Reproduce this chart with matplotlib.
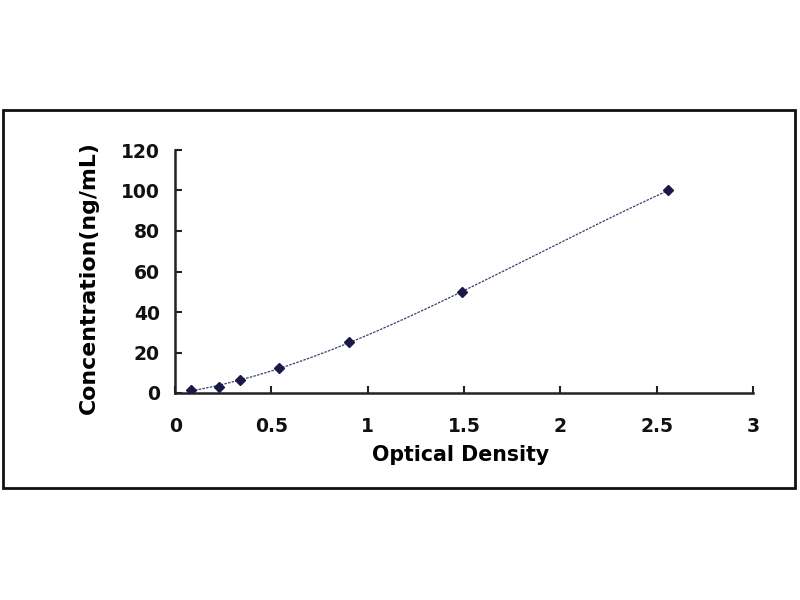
import numpy as np
import matplotlib
matplotlib.use("Agg")
import matplotlib.pyplot as plt
from matplotlib.patches import Rectangle

# standard curve points
od = [0.084, 0.228, 0.337, 0.54, 0.905, 1.49, 2.56]
conc = [1.56, 3.12, 6.25, 12.5, 25, 50, 100]

x_ticks = [0, 0.5, 1, 1.5, 2, 2.5, 3]
x_tick_labels = ["0", "0.5", "1", "1.5", "2", "2.5", "3"]
y_ticks = [0, 20, 40, 60, 80, 100, 120]

plt.rcParams["font.family"] = ["DejaVu Sans"]
plt.rcParams["font.weight"] = "bold"

fig = plt.figure(figsize=(8, 6), dpi=100)
fig.patch.set_facecolor("white")

# outer frame like the pasted Excel chart
fig.patches.append(Rectangle((0.004, 0.187), 0.990, 0.630, transform=fig.transFigure,
                             fill=False, edgecolor="#111111", linewidth=2.0))

ax = fig.add_axes([0.219, 0.345, 0.722, 0.405])

# smooth trendline through the standards (cubic fit)
coef = np.polyfit(od, conc, 3)
xs = np.linspace(min(od), max(od), 200)
ax.plot(xs, np.polyval(coef, xs), color="#3a3f70", linewidth=0.9, linestyle=(0, (2, 1)))
ax.plot(od, conc, linestyle="none", marker="D", markersize=5, color="#1a1a4a")

ax.set_xlim(0, 3)
ax.set_ylim(0, 120)
ax.set_xticks(x_ticks)
ax.set_xticklabels(x_tick_labels)
ax.set_yticks(y_ticks)

for s in ["top", "right"]:
    ax.spines[s].set_visible(False)
for s in ["left", "bottom"]:
    ax.spines[s].set_linewidth(1.8)
    ax.spines[s].set_color("#222222")

ax.tick_params(direction="in", length=5, width=1.5, colors="#222222",
               labelsize=13.5, labelcolor="#111111")
ax.tick_params(axis="x", pad=17)
ax.tick_params(axis="y", pad=11)

ax.set_xlabel("Optical Density", fontsize=14.8, fontweight="bold")
ax.set_ylabel("Concentration(ng/mL)", fontsize=15.8, fontweight="bold")
ax.xaxis.set_label_coords(0.494, -0.215)
ax.yaxis.set_label_coords(-0.133, 0.473)

fig.savefig("out.png", dpi=100, facecolor="white")
